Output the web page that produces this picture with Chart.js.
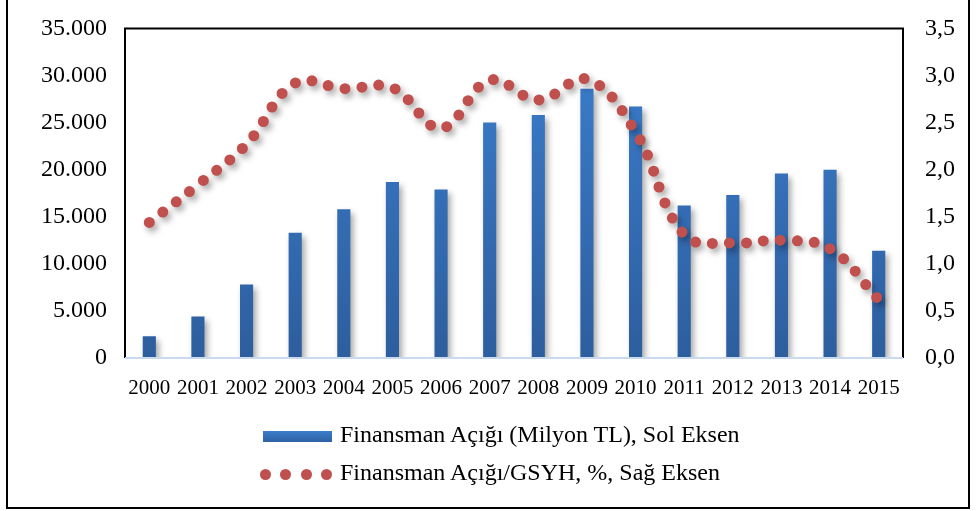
<!DOCTYPE html>
<html>
<head>
<meta charset="utf-8">
<script src="https://cdn.jsdelivr.net/npm/chart.js@4/dist/chart.umd.min.js"></script>
<style>
  html, body { margin: 0; padding: 0; background: #fff; }
  #wrap { position: relative; width: 977px; height: 511px; overflow: hidden; }
  #frame { position: absolute; left: 6px; top: -4px; width: 960px; height: 509px; border: 2px solid #000; }
  #chart { position: absolute; left: 0; top: 0; }
  .leg { position: absolute; left: 0; font-family: "Liberation Serif", "Times New Roman", serif; font-size: 24px; color: #000; white-space: nowrap; }
  .leg .txt { position: absolute; left: 340px; top: -15px; }
  .bar { position: absolute; left: 263px; top: -5px; width: 69px; height: 11px; background: linear-gradient(#3b7dcb, #2f63a4); }
  .dot { position: absolute; top: -5px; width: 11px; height: 11px; border-radius: 50%; background: #c0504d; }
</style>
</head>
<body>
<div id="wrap">
  <canvas id="chart" width="977" height="511"></canvas>
  <div id="frame"></div>
  <div class="leg" style="top:436px"><div class="bar"></div><span class="txt">Finansman Açığı (Milyon TL), Sol Eksen</span></div>
  <div class="leg" style="top:474px">
    <div class="dot" style="left:260px"></div><div class="dot" style="left:280px"></div>
    <div class="dot" style="left:301px"></div><div class="dot" style="left:321px"></div>
    <span class="txt">Finansman Açığı/GSYH, %, Sağ Eksen</span>
  </div>
</div>
<script>
const years = ["2000","2001","2002","2003","2004","2005","2006","2007","2008","2009","2010","2011","2012","2013","2014","2015"];
const deficit = [2300, 4400, 7800, 13300, 15800, 18700, 17900, 25000, 25800, 28600, 26700, 16200, 17300, 19600, 20000, 11400];
const deficitGdp = [1.44, 1.84, 2.27, 2.92, 2.86, 2.87, 2.44, 2.95, 2.74, 2.96, 2.40, 1.31, 1.22, 1.25, 1.16, 0.62];
const leftTicks = [0, 5000, 10000, 15000, 20000, 25000, 30000, 35000];
const rightTicks = [0, 0.5, 1, 1.5, 2, 2.5, 3, 3.5];

const serif = "'Liberation Serif', 'Times New Roman', serif";

const shadow = {
  id: "shadow",
  beforeDatasetDraw(chart) {
    const ctx = chart.ctx;
    ctx.save();
    ctx.shadowColor = "rgba(0,0,0,0.35)";
    ctx.shadowBlur = 6;
    ctx.shadowOffsetX = 3;
    ctx.shadowOffsetY = 4;
  },
  afterDatasetDraw(chart) {
    chart.ctx.restore();
  }
};

const plotBox = {
  id: "plotBox",
  afterDraw(chart) {
    const { ctx, chartArea: a } = chart;
    ctx.save();
    ctx.strokeStyle = "#000";
    ctx.lineWidth = 2;
    ctx.beginPath();
    ctx.moveTo(a.left, a.bottom);
    ctx.lineTo(a.left, a.top);
    ctx.lineTo(a.right, a.top);
    ctx.lineTo(a.right, a.bottom);
    ctx.stroke();
    ctx.strokeStyle = "#c9d9ee";
    ctx.beginPath();
    ctx.moveTo(a.left, a.bottom);
    ctx.lineTo(a.right, a.bottom);
    ctx.stroke();
    ctx.restore();
  }
};

function barFill(c) {
  const a = c.chart.chartArea;
  if (!a) return "#3a78c4";
  const g = c.chart.ctx.createLinearGradient(0, a.top, 0, a.bottom);
  g.addColorStop(0, "#3c7fcf");
  g.addColorStop(1, "#2d5e9e");
  return g;
}

new Chart(document.getElementById("chart"), {
  data: {
    labels: years,
    datasets: [
      {
        type: "line",
        label: "Finansman Açığı/GSYH, %, Sağ Eksen",
        data: deficitGdp,
        yAxisID: "y1",
        borderColor: "#c0504d",
        borderWidth: 11,
        borderDash: [0, 17],
        borderCapStyle: "round",
        tension: 0.4,
        pointRadius: 0,
        fill: false,
        order: 0
      },
      {
        type: "bar",
        label: "Finansman Açığı (Milyon TL), Sol Eksen",
        data: deficit,
        yAxisID: "y",
        backgroundColor: barFill,
        barPercentage: 0.27,
        categoryPercentage: 1,
        order: 1
      }
    ]
  },
  options: {
    responsive: false,
    animation: false,
    layout: { padding: { top: 25, left: 0, right: 0, bottom: 0 } },
    plugins: { legend: { display: false }, tooltip: { enabled: false } },
    scales: {
      x: {
        grid: { display: false },
        border: { display: false },
        ticks: { color: "#000", font: { family: serif, size: 21 }, padding: 10, maxRotation: 0, autoSkip: false },
        afterFit(s) { s.height = 511 - 25 - 333; }
      },
      y: {
        position: "left",
        min: 0, max: 35000,
        afterBuildTicks(s) { s.ticks = leftTicks.map(v => ({ value: v })); },
        grid: { display: false },
        border: { display: false },
        ticks: {
          color: "#000", font: { family: serif, size: 24 }, padding: 10,
          callback: v => v === 0 ? "0" : v.toLocaleString("de-DE")
        },
        afterFit(s) { s.width = 125; }
      },
      y1: {
        position: "right",
        min: 0, max: 3.5,
        afterBuildTicks(s) { s.ticks = rightTicks.map(v => ({ value: v })); },
        grid: { display: false },
        border: { display: false },
        ticks: {
          color: "#000", font: { family: serif, size: 24 }, padding: 14,
          callback: v => v.toFixed(1).replace(".", ",")
        },
        afterFit(s) { s.width = 74; }
      }
    }
  },
  plugins: [shadow, plotBox]
});
</script>
</body>
</html>
